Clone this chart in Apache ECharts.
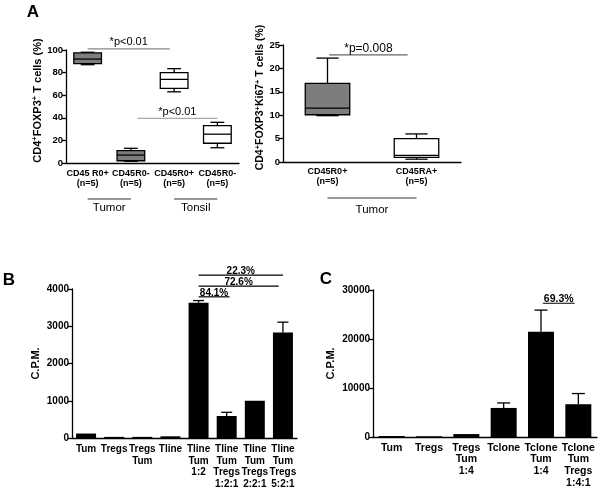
<!DOCTYPE html>
<html>
<head>
<meta charset="utf-8">
<script src="https://cdn.jsdelivr.net/npm/echarts@6/dist/echarts.min.js"></script>
<style>html,body{margin:0;padding:0;background:#fff}#c{width:601px;height:492px}</style>
</head>
<body>
<div id="c"></div>
<script>
// ---------- DATA ----------
// Panel A (left): CD4+FOXP3+ T cells (%)
const a1Cats = ['CD45 R0+\n(n=5)', 'CD45R0-\n(n=5)', 'CD45R0+\n(n=5)', 'CD45R0-\n(n=5)'];
const a1Min = [87, 1.5, 63, 13.5];
const a1Q1  = [88, 2, 66, 17.5];
const a1Med = [92, 7, 74, 25.5];
const a1Q3  = [97.5, 11, 80, 33];
const a1Max = [98, 13, 83.5, 36];
const a1Ticks = [0, 20, 40, 60, 80, 100];
const a1Groups = [{name: 'Tumor', from: 0, to: 1}, {name: 'Tonsil', from: 2, to: 3}];
const a1Sig = [{text: '*p<0.01', from: 0, to: 1.9, at: 101},
               {text: '*p<0.01', from: 1.15, to: 3, at: 39.5}];

// Panel A (right): CD4+FOXP3+Ki67+ T cells (%)
const a2Cats = ['CD45R0+\n(n=5)', 'CD45RA+\n(n=5)'];
const a2Min = [9.9, 0.6];
const a2Q1  = [10.1, 1.0];
const a2Med = [11.5, 1.4];
const a2Q3  = [16.8, 5.0];
const a2Max = [22.2, 6.0];
const a2Ticks = [0, 5, 10, 15, 20, 25];
const a2Groups = [{name: 'Tumor', from: 0, to: 1}];
const a2Sig = [{text: '*p=0.008', from: 0.02, to: 0.9, at: 22.9}];

// Panel B
const bCats = ['Tum', 'Tregs', 'Tregs\nTum', 'Tline', 'Tline\nTum\n1:2',
               'Tline\nTum\nTregs\n1:2:1', 'Tline\nTum\nTregs\n2:2:1', 'Tline\nTum\nTregs\n5:2:1'];
const bVals = [120, 30, 30, 45, 3630, 590, 1000, 2830];
const bErr  = [0, 0, 0, 0, 60, 100, 0, 280];
const bTicks = [0, 1000, 2000, 3000, 4000];
const bSig = [{text: '84.1%', from: 4, to: 5.1, at: 3790},
              {text: '72.6%', from: 4, to: 6.85, at: 4075},
              {text: '22.3%', from: 4, to: 7, at: 4375}];

// Panel C
const cCats = ['Tum', 'Tregs', 'Tregs\nTum\n1:4', 'Tclone', 'Tclone\nTum\n1:4', 'Tclone\nTum\nTregs\n1:4:1'];
const cVals = [200, 150, 600, 5930, 21470, 6690];
const cErr  = [0, 0, 0, 1020, 4430, 2180];
const cTicks = [0, 10000, 20000, 30000];
const cSig = [{text: '69.3%', from: 4.05, to: 4.9, at: 27300}];

// ---------- STYLE ----------
const FONT = '"Liberation Sans", Arial, Helvetica, sans-serif';
const GRAY = '#7d7d7d';
const A1_FILLS = [GRAY, GRAY, '#ffffff', '#ffffff'];
const A2_FILLS = [GRAY, '#ffffff'];
const LW = 1.3;

function boxRenderer(fills, boxFrac) {
  return function (params, api) {
    const i = api.value(0);
    const band = api.size([1, 0])[0];
    const bw = band * boxFrac, cw = bw * 0.5;
    const pMin = api.coord([i, api.value(1)]);
    const pQ1 = api.coord([i, api.value(2)]);
    const pMed = api.coord([i, api.value(3)]);
    const pQ3 = api.coord([i, api.value(4)]);
    const pMax = api.coord([i, api.value(5)]);
    const x = pMed[0];
    const st = {stroke: '#000', lineWidth: LW};
    return {type: 'group', children: [
      {type: 'line', shape: {x1: x, y1: pMax[1], x2: x, y2: pQ3[1]}, style: st},
      {type: 'line', shape: {x1: x, y1: pQ1[1], x2: x, y2: pMin[1]}, style: st},
      {type: 'line', shape: {x1: x - cw / 2, y1: pMax[1], x2: x + cw / 2, y2: pMax[1]}, style: st},
      {type: 'line', shape: {x1: x - cw / 2, y1: pMin[1], x2: x + cw / 2, y2: pMin[1]}, style: st},
      {type: 'rect', shape: {x: x - bw / 2, y: pQ3[1], width: bw, height: pQ1[1] - pQ3[1]},
       style: {fill: fills[params.dataIndex], stroke: '#000', lineWidth: LW}},
      {type: 'line', shape: {x1: x - bw / 2, y1: pMed[1], x2: x + bw / 2, y2: pMed[1]}, style: st}
    ]};
  };
}

function errRenderer(capW) {
  return function (params, api) {
    if (api.value(2) <= api.value(1)) return null;
    const p0 = api.coord([api.value(0), api.value(1)]);
    const p1 = api.coord([api.value(0), api.value(2)]);
    const st = {stroke: '#000', lineWidth: LW};
    return {type: 'group', children: [
      {type: 'line', shape: {x1: p0[0], y1: p0[1], x2: p1[0], y2: p1[1]}, style: st},
      {type: 'line', shape: {x1: p1[0] - capW / 2, y1: p1[1], x2: p1[0] + capW / 2, y2: p1[1]}, style: st}
    ]};
  };
}

function xAx(gi, cats, fs, lh, margin) {
  return {
    type: 'category', gridIndex: gi, data: cats,
    axisLine: {lineStyle: {color: '#000', width: LW}},
    axisTick: {alignWithLabel: true, length: 4, lineStyle: {color: '#000', width: LW}},
    axisLabel: {interval: 0, color: '#000', fontFamily: FONT, fontWeight: 'bold', fontSize: fs, lineHeight: lh, margin: margin}
  };
}
function yAx(gi, ticks, name, gap, fs, nameFs, rich, namePad) {
  return {
    type: 'value', gridIndex: gi, min: ticks[0], max: ticks[ticks.length - 1],
    interval: ticks[1] - ticks[0],
    name: name, nameLocation: 'middle', nameGap: gap, nameRotate: 90,
    nameTextStyle: {color: '#000', fontFamily: FONT, fontWeight: 'bold', fontSize: nameFs, rich: rich || {},
                    padding: namePad || 0},
    splitLine: {show: false},
    axisLine: {show: true, lineStyle: {color: '#000', width: LW}},
    axisTick: {show: true, length: 4, lineStyle: {color: '#000', width: LW}},
    axisLabel: {color: '#000', fontFamily: FONT, fontWeight: 'bold', fontSize: fs, margin: 3,
                formatter: function (v) { return String(v); }}
  };
}

const supRich = {s: {fontSize: 7.5, fontWeight: 'bold', fontFamily: FONT, color: '#000', verticalAlign: 'top', padding: [0, 0, 5, 0]}};

const option = {
  animation: false,
  backgroundColor: '#fff',
  grid: [
    {left: 66, top: 50, width: 173, height: 113},
    {left: 283, top: 45, width: 178, height: 117},
    {left: 72, top: 289, width: 225, height: 149},
    {left: 373, top: 290, width: 224, height: 147}
  ],
  xAxis: [xAx(0, a1Cats, 9, 10, 5.5), xAx(1, a2Cats, 9, 10, 5), xAx(2, bCats, 10, 11.4, 6), xAx(3, cCats, 10.5, 11.7, 5)],
  yAxis: [
    yAx(0, a1Ticks, 'CD4{s|+}FOXP3{s|+} T cells (%)', 22, 9.5, 11, supRich, [0, 0, 0, 12]),
    yAx(1, a2Ticks, 'CD4{s|+}FOXP3{s|+}Ki67{s|+} T cells (%)', 16, 9.5, 10.5, supRich, [0, 0, 0, 12]),
    yAx(2, bTicks, 'C.P.M.', 31, 10, 11),
    yAx(3, cTicks, 'C.P.M.', 37, 10, 11)
  ],
  series: [
    {type: 'custom', xAxisIndex: 0, yAxisIndex: 0, renderItem: boxRenderer(A1_FILLS, 0.64),
     encode: {x: 0, y: [1, 2, 3, 4, 5]},
     data: a1Cats.map((c, i) => [i, a1Min[i], a1Q1[i], a1Med[i], a1Q3[i], a1Max[i]])},
    {type: 'custom', xAxisIndex: 1, yAxisIndex: 1, renderItem: boxRenderer(A2_FILLS, 0.5),
     encode: {x: 0, y: [1, 2, 3, 4, 5]},
     data: a2Cats.map((c, i) => [i, a2Min[i], a2Q1[i], a2Med[i], a2Q3[i], a2Max[i]])},
    {type: 'bar', xAxisIndex: 2, yAxisIndex: 2, data: bVals, barWidth: 20, itemStyle: {color: '#000'}},
    {type: 'custom', xAxisIndex: 2, yAxisIndex: 2, renderItem: errRenderer(11), encode: {x: 0, y: [1, 2]},
     data: bVals.map((v, i) => [i, v, v + bErr[i]])},
    {type: 'bar', xAxisIndex: 3, yAxisIndex: 3, data: cVals, barWidth: 26, itemStyle: {color: '#000'}},
    {type: 'custom', xAxisIndex: 3, yAxisIndex: 3, renderItem: errRenderer(13), encode: {x: 0, y: [1, 2]},
     data: cVals.map((v, i) => [i, v, v + cErr[i]])}
  ]
};

const chart = echarts.init(document.getElementById('c'), null, {renderer: 'canvas'});
chart.setOption(option);

// ---------- ANNOTATIONS (positioned through the axes) ----------
const g = [];
function px(gi, x, y) { return chart.convertToPixel({gridIndex: gi}, [x, y]); }
function catX(gi, f) {
  const x0 = px(gi, 0, 0)[0], x1 = px(gi, 1, 0)[0];
  return x0 + (x1 - x0) * f;
}
function sig(gi, s, color, fs, weight, textGap) {
  const y = px(gi, 0, s.at)[1];
  const xa = catX(gi, s.from), xb = catX(gi, s.to);
  g.push({type: 'line', shape: {x1: xa, y1: y, x2: xb, y2: y}, style: {stroke: color, lineWidth: 1.2}});
  g.push({type: 'text', x: (xa + xb) / 2, y: y - textGap,
          style: {text: s.text, fill: '#000', font: weight + ' ' + fs + 'px ' + FONT, textAlign: 'center', textVerticalAlign: 'bottom'}});
}
function groups(gi, list, lineOff, textOff) {
  const y0 = px(gi, 0, 0)[1];
  list.forEach(function (gr) {
    const xa = catX(gi, gr.from), xb = catX(gi, gr.to);
    g.push({type: 'line', shape: {x1: xa, y1: y0 + lineOff, x2: xb, y2: y0 + lineOff}, style: {stroke: '#333', lineWidth: 1.2}});
    g.push({type: 'text', x: (xa + xb) / 2, y: y0 + textOff,
            style: {text: gr.name, fill: '#000', font: '11.5px ' + FONT, textAlign: 'center', textVerticalAlign: 'middle'}});
  });
}

sig(0, a1Sig[0], '#888', 11, 'normal', 1);
sig(0, a1Sig[1], '#aaa', 11, 'normal', 1);
sig(1, a2Sig[0], '#666', 12, 'normal', 0);
groups(0, a1Groups, 36, 45);
groups(1, a2Groups, 36, 48);
bSig.forEach(function (s) { sig(2, s, '#000', 10, 'bold', -1); });
cSig.forEach(function (s) { sig(3, s, '#000', 10.5, 'bold', -1); });

const letters = [['A', 33, 12], ['B', 9, 280], ['C', 326, 279]];
letters.forEach(function (l) {
  g.push({type: 'text', x: l[1], y: l[2],
          style: {text: l[0], fill: '#000', font: 'bold 17px ' + FONT, textAlign: 'center', textVerticalAlign: 'middle'}});
});

chart.setOption({graphic: g});
</script>
</body>
</html>
